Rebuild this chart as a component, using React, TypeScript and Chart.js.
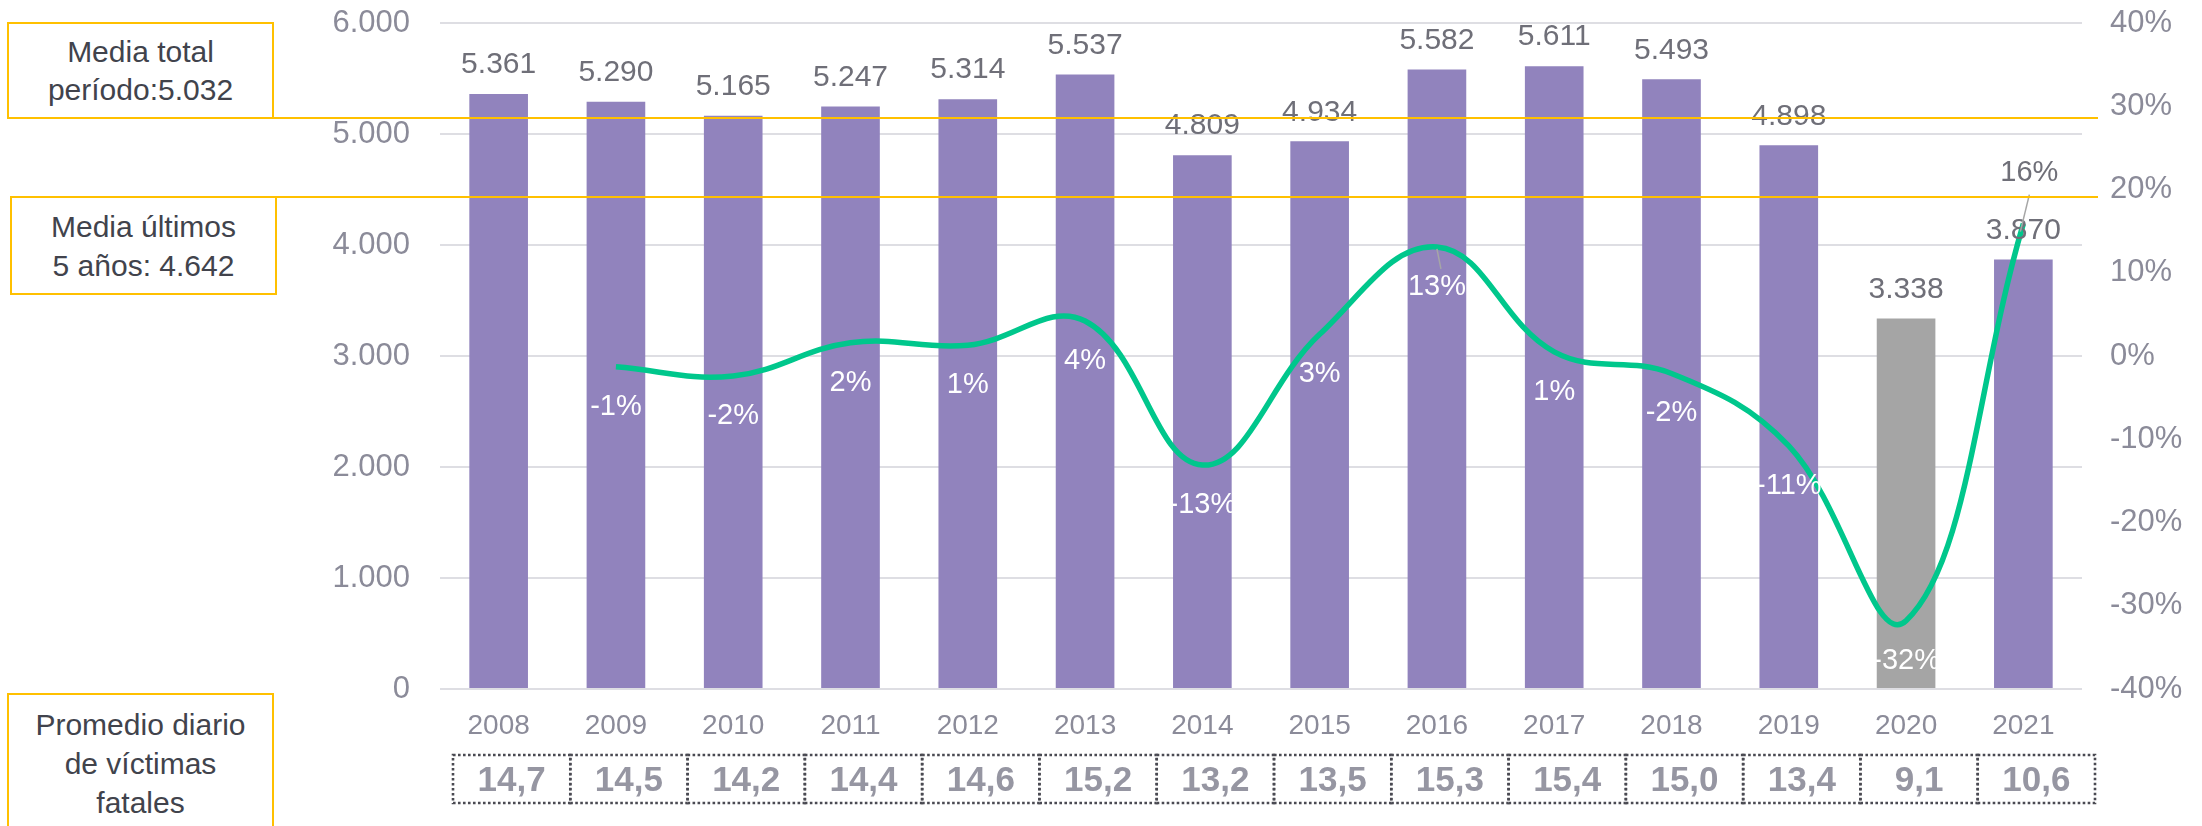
import React, { useEffect, useRef } from 'react';
import { Chart, registerables } from 'chart.js';

Chart.register(...registerables);

const FONT = '"Liberation Sans", Arial, Helvetica, sans-serif';

// ---- data ----
const years = ['2008', '2009', '2010', '2011', '2012', '2013', '2014', '2015', '2016', '2017', '2018', '2019', '2020', '2021'];
const victims = [5361, 5290, 5165, 5247, 5314, 5537, 4809, 4934, 5582, 5611, 5493, 4898, 3338, 3870];
const changePct: (number | null)[] = [null, -1.3, -2.4, 1.6, 1.3, 4.2, -13.1, 2.6, 13.1, 0.5, -2.1, -10.8, -31.8, 15.9];
const dailyAvg = [14.7, 14.5, 14.2, 14.4, 14.6, 15.2, 13.2, 13.5, 15.3, 15.4, 15.0, 13.4, 9.1, 10.6];
const highlightYears = ['2020'];
const leaderYears = ['2016', '2021'];
const aboveLabelYears = ['2021'];
const leftTickRange = { min: 0, max: 6000, step: 1000 };
const rightTickRange = { min: -40, max: 40, step: 10 };
const boxTotal = ['Media total', 'período:5.032'];
const boxLast5 = ['Media últimos', '5 años: 4.642'];
const boxDaily = ['Promedio diario', 'de víctimas', 'fatales'];

// ---- styles ----
const PURPLE = '#9183BD';
const GREY_BAR = '#A5A5A5';
const GREEN = '#00C78C';
const TICK_COLOR = '#8B8B99';
const BAR_LABEL_COLOR = '#6F6F78';
const TABLE_COLOR = '#9696A2';
const ORANGE = '#FFC000';
const BOX_TEXT = '#41434C';
const AXIS_LABEL_GAP = 30;

const fmtThousands = (v: number) => {
  if (v === 0) return '0';
  const s = Math.round(v).toString();
  return s.replace(/\B(?=(\d{3})+(?!\d))/g, '.');
};

const labelsPlugin = {
  id: 'customLabels',
  beforeDatasetsDraw(chart: any) {
    // value-axis tick labels (drawn here so tick padding does not shrink the plot area)
    const ctx = chart.ctx as CanvasRenderingContext2D;
    const ys = chart.scales.y;
    const ys1 = chart.scales.y1;
    ctx.save();
    ctx.font = `31px ${FONT}`;
    ctx.fillStyle = TICK_COLOR;
    ctx.textBaseline = 'middle';
    ctx.textAlign = 'right';
    ys.ticks.forEach((t: any) => {
      ctx.fillText(fmtThousands(t.value), ys.right - AXIS_LABEL_GAP, ys.getPixelForValue(t.value));
    });
    ctx.textAlign = 'left';
    ys1.ticks.forEach((t: any) => {
      ctx.fillText(`${t.value}%`, ys1.left + 28, ys1.getPixelForValue(t.value));
    });
    ctx.restore();
  },
  afterDatasetsDraw(chart: any) {
    const ctx = chart.ctx as CanvasRenderingContext2D;
    ctx.save();
    // bar value labels
    const barMeta = chart.getDatasetMeta(0);
    ctx.font = `30px ${FONT}`;
    ctx.fillStyle = BAR_LABEL_COLOR;
    ctx.textAlign = 'center';
    ctx.textBaseline = 'middle';
    barMeta.data.forEach((el: any, i: number) => {
      ctx.fillText(fmtThousands(victims[i]), el.x, el.y - 29);
    });
    // percentage labels
    const lineMeta = chart.getDatasetMeta(1);
    ctx.font = `29px ${FONT}`;
    lineMeta.data.forEach((pt: any, i: number) => {
      const v = changePct[i];
      if (v == null) return;
      const txt = Math.round(v) + '%';
      const above = aboveLabelYears.includes(years[i]);
      const ly = above ? pt.y - 51 : pt.y + 40;
      const lx = above ? pt.x + 6 : pt.x;
      if (leaderYears.includes(years[i])) {
        ctx.strokeStyle = '#A6A6A6';
        ctx.lineWidth = 1.5;
        ctx.beginPath();
        if (above) {
          ctx.moveTo(pt.x - 3, pt.y + 8);
          ctx.lineTo(pt.x + 6, pt.y - 29);
        } else {
          ctx.moveTo(pt.x, pt.y + 2);
          ctx.lineTo(pt.x + 4, pt.y + 22);
        }
        ctx.stroke();
      }
      ctx.fillStyle = above ? BAR_LABEL_COLOR : '#FFFFFF';
      ctx.fillText(txt, lx, ly);
    });
    ctx.restore();
  },
  afterDraw(chart: any) {
    // daily average table under the category axis
    const ctx = chart.ctx as CanvasRenderingContext2D;
    const xs = chart.scales.x;
    const n = years.length;
    const cw = (xs.right - xs.left) / n;
    const top = 755;
    const bottom = 803;
    ctx.save();
    ctx.strokeStyle = '#4A4A52';
    ctx.lineWidth = 2.6;
    ctx.setLineDash([2.6, 2.4]);
    for (let i = 0; i < n; i++) {
      const cx = xs.getPixelForValue(i) + 13;
      const l = cx - cw / 2;
      ctx.strokeRect(l, top, cw, bottom - top);
    }
    ctx.setLineDash([]);
    ctx.font = `bold 35px ${FONT}`;
    ctx.fillStyle = TABLE_COLOR;
    ctx.textAlign = 'center';
    ctx.textBaseline = 'middle';
    for (let i = 0; i < n; i++) {
      const cx = xs.getPixelForValue(i) + 13;
      ctx.fillText(dailyAvg[i].toFixed(1).replace('.', ','), cx, (top + bottom) / 2 + 2);
    }
    ctx.restore();
  },
};

export default function App() {
  const canvasRef = useRef<HTMLCanvasElement | null>(null);

  useEffect(() => {
    if (!canvasRef.current) return;
    Chart.defaults.font.family = FONT;
    const chart = new Chart(canvasRef.current, {
      type: 'bar',
      data: {
        labels: years,
        datasets: [
          {
            type: 'bar',
            data: victims,
            backgroundColor: years.map((y) => (highlightYears.includes(y) ? GREY_BAR : PURPLE)),
            barPercentage: 0.5,
            categoryPercentage: 1.0,
            yAxisID: 'y',
            order: 2,
          },
          {
            type: 'line',
            data: changePct,
            borderColor: GREEN,
            borderWidth: 5.5,
            pointRadius: 0,
            tension: 0.4,
            fill: false,
            yAxisID: 'y1',
            order: 1,
          } as any,
        ],
      },
      options: {
        responsive: false,
        animation: false,
        layout: { padding: { top: 23, left: 0, right: 0, bottom: 0 }, autoPadding: false },
        plugins: {
          legend: { display: false },
          tooltip: { enabled: false },
        },
        scales: {
          x: {
            grid: { display: false, drawTicks: false },
            border: { display: false },
            ticks: { color: TICK_COLOR, font: { size: 28, family: FONT }, padding: 20, maxRotation: 0 },
            afterFit: (s: any) => {
              s.height = 137;
            },
          },
          y: {
            position: 'left',
            min: leftTickRange.min,
            max: leftTickRange.max,
            ticks: { stepSize: leftTickRange.step, display: false, padding: 0 },
            grid: { color: '#DEDEE3', lineWidth: 2, drawTicks: false },
            border: { display: false },
            afterFit: (s: any) => {
              s.width = 440;
            },
          },
          y1: {
            position: 'right',
            min: rightTickRange.min,
            max: rightTickRange.max,
            ticks: { stepSize: rightTickRange.step, display: false, padding: 0 },
            grid: { display: false, drawTicks: false },
            border: { display: false },
            afterFit: (s: any) => {
              s.width = 120;
            },
          },
        },
      } as any,
      plugins: [labelsPlugin],
    });
    return () => chart.destroy();
  }, []);

  const boxStyle = (left: number, top: number, height: number, lh: number, pad?: number): React.CSSProperties => ({
    position: 'absolute',
    left,
    top,
    width: 267,
    height,
    boxSizing: 'border-box',
    border: `2px solid ${ORANGE}`,
    background: '#FFFFFF',
    display: 'flex',
    flexDirection: 'column',
    justifyContent: pad != null ? 'flex-start' : 'center',
    alignItems: 'center',
    paddingTop: pad ?? 0,
    fontFamily: FONT,
    fontSize: 30,
    lineHeight: `${lh}px`,
    color: BOX_TEXT,
    textAlign: 'center',
    whiteSpace: 'nowrap',
  });

  const lineStyle = (top: number): React.CSSProperties => ({
    position: 'absolute',
    left: 247,
    top,
    width: 2098 - 247,
    height: 2,
    background: ORANGE,
  });

  return (
    <div style={{ position: 'relative', width: 2202, height: 826, overflow: 'hidden', background: '#FFFFFF' }}>
      <style>{'body{margin:0;}'}</style>
      <canvas ref={canvasRef} width={2202} height={826} style={{ position: 'absolute', left: 0, top: 0, width: 2202, height: 826 }} />
      <div style={boxStyle(7, 22, 97, 38)}>
        {boxTotal.map((t) => (
          <div key={t}>{t}</div>
        ))}
      </div>
      <div style={boxStyle(10, 196, 99, 39)}>
        {boxLast5.map((t) => (
          <div key={t}>{t}</div>
        ))}
      </div>
      <div style={lineStyle(117)} />
      <div style={lineStyle(196)} />
      <div style={boxStyle(7, 693, 170, 39, 10)}>
        {boxDaily.map((t) => (
          <div key={t}>{t}</div>
        ))}
      </div>
    </div>
  );
}
